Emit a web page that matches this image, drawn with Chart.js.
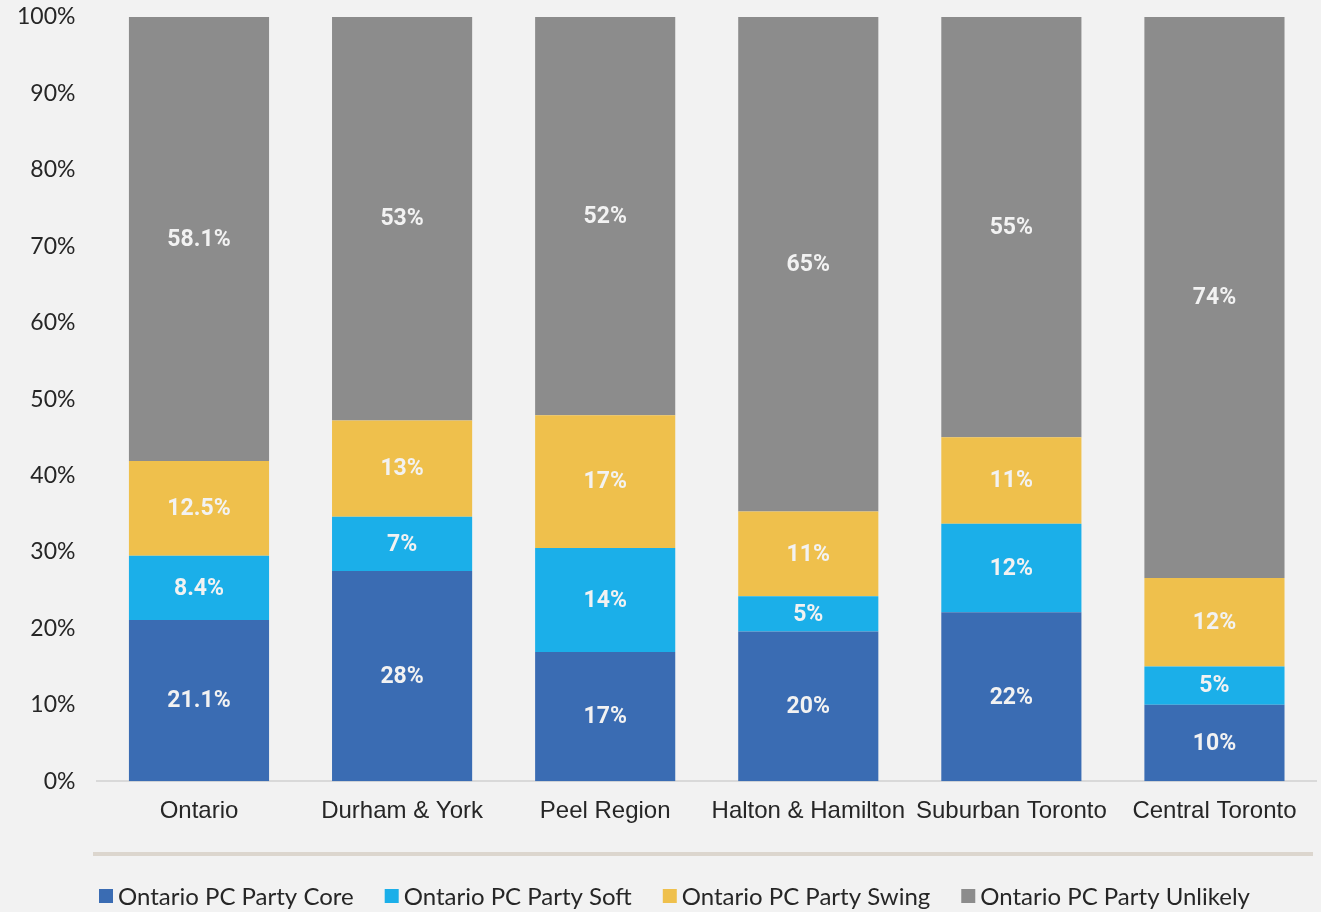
<!DOCTYPE html>
<html>
<head>
<meta charset="utf-8">
<title>Ontario PC Party support by region</title>
<script src="https://cdn.jsdelivr.net/npm/chart.js@4.4.1/dist/chart.umd.min.js"></script>
<style>
  html, body { margin: 0; padding: 0; background: #f2f2f2; }
  #wrap { width: 1321px; height: 912px; }
</style>
</head>
<body>
<div id="wrap"><canvas id="grafico" width="1321" height="912"></canvas></div>
<script>
// Regiones
const regiones = ['Ontario', 'Durham & York', 'Peel Region', 'Halton & Hamilton', 'Suburban Toronto', 'Central Toronto'];

const core = [21.1, 27.5, 16.9, 19.6, 22.1, 10.0];
const soft = [8.4, 7.1, 13.6, 4.6, 11.6, 5.0];
const swing = [12.4, 12.6, 17.4, 11.1, 11.3, 11.6];
const unlikely = [58.1, 52.8, 52.1, 64.7, 55.0, 73.4];

// Etiquetas tal como aparecen impresas en cada segmento
const coreLabels = ['21.1%', '28%', '17%', '20%', '22%', '10%'];
const softLabels = ['8.4%', '7%', '14%', '5%', '12%', '5%'];
const swingLabels = ['12.5%', '13%', '17%', '11%', '11%', '12%'];
const unlikelyLabels = ['58.1%', '53%', '52%', '65%', '55%', '74%'];

const yTicks = [0, 10, 20, 30, 40, 50, 60, 70, 80, 90, 100];

const etiquetas = [coreLabels, softLabels, swingLabels, unlikelyLabels];

// Plugin: textos dentro de las barras, línea separadora y leyenda
const extras = {
    id: 'extras',
    afterDatasetsDraw(chart) {
        const ctx = chart.ctx;
        ctx.save();
        ctx.font = 'bold 23px Roboto';
        ctx.fillStyle = '#f2f2f2';
        ctx.textAlign = 'center';
        ctx.textBaseline = 'middle';
        chart.data.datasets.forEach((ds, i) => {
            const meta = chart.getDatasetMeta(i);
            meta.data.forEach((bar, j) => {
                const yMid = (bar.y + bar.base) / 2;
                ctx.fillText(etiquetas[i][j], bar.x, yMid + 1);
            });
        });
        ctx.restore();
    },
    afterDraw(chart) {
        const ctx = chart.ctx;
        ctx.save();
        // línea separadora
        ctx.strokeStyle = '#dcd6ce';
        ctx.lineWidth = 4;
        ctx.beginPath();
        ctx.moveTo(93, 854);
        ctx.lineTo(1313, 854);
        ctx.stroke();

        // leyenda
        ctx.font = '24px Lato';
        ctx.textBaseline = 'middle';
        ctx.textAlign = 'left';
        let x = 99;
        const y = 896;
        chart.data.datasets.forEach((ds) => {
            ctx.fillStyle = ds.backgroundColor;
            ctx.fillRect(x, y - 7, 14, 14);
            ctx.fillStyle = '#262626';
            ctx.fillText(ds.label, x + 19, y + 1);
            x += 19 + ctx.measureText(ds.label).width + 31;
        });
        ctx.restore();
    }
};

new Chart(document.getElementById('grafico'), {
    type: 'bar',
    data: {
        labels: regiones,
        datasets: [
            { label: 'Ontario PC Party Core', data: core, backgroundColor: '#3a6cb3' },
            { label: 'Ontario PC Party Soft', data: soft, backgroundColor: '#1bafe9' },
            { label: 'Ontario PC Party Swing', data: swing, backgroundColor: '#efc04c' },
            { label: 'Ontario PC Party Unlikely', data: unlikely, backgroundColor: '#8c8c8c' }
        ]
    },
    options: {
        responsive: false,
        animation: false,
        devicePixelRatio: 1,
        datasets: {
            bar: { categoryPercentage: 1, barPercentage: 0.69, borderWidth: 0 }
        },
        layout: { padding: { top: 17, right: 5, bottom: 70, left: -5 } },
        plugins: {
            legend: { display: false },
            tooltip: { enabled: false }
        },
        scales: {
            x: {
                stacked: true,
                grid: { display: false, drawTicks: false },
                border: { color: '#d9d9d9', width: 2 },
                ticks: {
                    padding: 16,
                    color: '#262626',
                    font: { family: 'Liberation Sans', size: 24 }
                }
            },
            y: {
                stacked: true,
                min: 0,
                max: 100,
                afterBuildTicks(axis) {
                    axis.ticks = yTicks.map(v => ({ value: v }));
                },
                afterFit(axis) {
                    axis.paddingTop = 0;
                    axis.paddingBottom = 0;
                },
                grid: { display: false, drawTicks: false },
                border: { display: false },
                ticks: {
                    padding: 22,
                    color: '#262626',
                    font: { family: 'Lato', size: 23 },
                    callback: (v) => v + '%'
                }
            }
        }
    },
    plugins: [extras]
});
</script>
</body>
</html>
